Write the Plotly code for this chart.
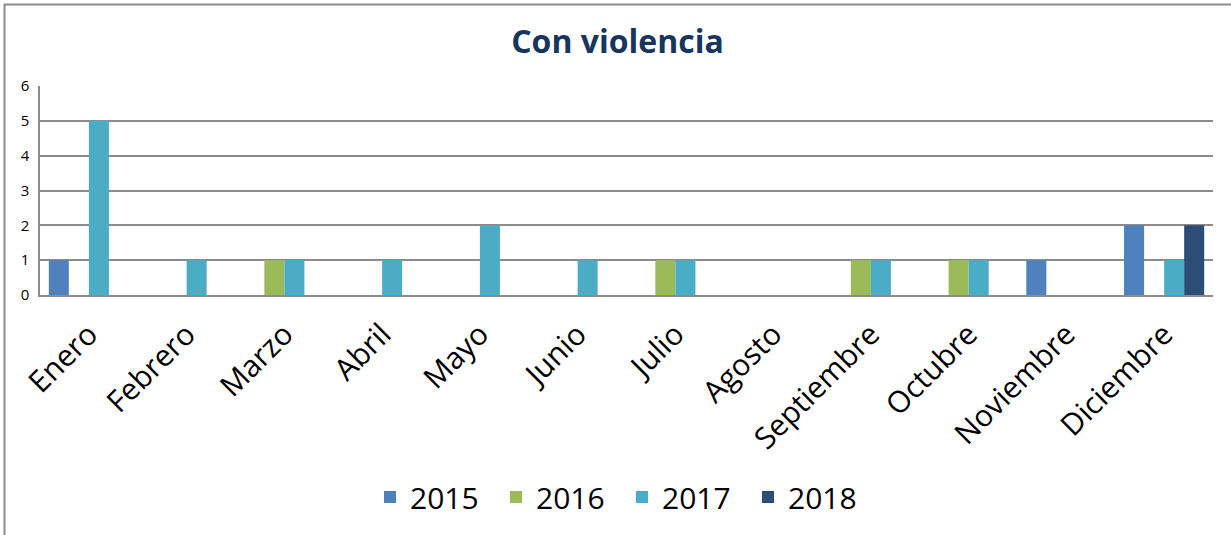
import plotly.graph_objects as go

months = ["Enero", "Febrero", "Marzo", "Abril", "Mayo", "Junio", "Julio",
          "Agosto", "Septiembre", "Octubre", "Noviembre", "Diciembre"]

y2015 = [1, 0, 0, 0, 0, 0, 0, 0, 0, 0, 1, 2]
y2016 = [0, 0, 1, 0, 0, 0, 1, 0, 1, 1, 0, 0]
y2017 = [5, 1, 1, 1, 2, 1, 1, 0, 1, 1, 0, 1]
y2018 = [0, 0, 0, 0, 0, 0, 0, 0, 0, 0, 0, 2]

series = [
    ("2015", y2015, "#4F81BD"),
    ("2016", y2016, "#9BBB59"),
    ("2017", y2017, "#4BACC6"),
    ("2018", y2018, "#2C4D75"),
]

fig = go.Figure()
for name, vals, color in series:
    fig.add_trace(go.Bar(x=months, y=vals, name=name,
                         marker=dict(color=color, line=dict(width=0))))

W, H = 1231, 535
L, R, T, B = 40, 18, 86, 240
pw, ph = W - L - R, H - T - B

def px(x):
    return (x - L) / pw

def py(y):
    return (H - B - y) / ph

fig.update_layout(
    width=W, height=H,
    margin=dict(l=L, r=R, t=T, b=B),
    paper_bgcolor="white", plot_bgcolor="white",
    barmode="group", bargap=0.18, bargroupgap=0,
    title=dict(text="<b>Con violencia</b>", x=617.5 / W, xanchor="center",
               xref="container", y=1 - 42 / H, yanchor="middle",
               font=dict(family="Open Sans", size=32, color="#17365D")),
    font=dict(family="Open Sans", color="black"),
    legend=dict(orientation="h", x=px(622), xanchor="center",
                y=py(497), yanchor="middle",
                font=dict(family="Open Sans", size=30, color="black"),
                itemwidth=30, traceorder="normal",
                entrywidth=81, entrywidthmode="pixels"),
    shapes=[
        dict(type="line", xref="paper", yref="paper",
             x0=px(4), x1=px(1231), y0=py(4.5), y1=py(4.5),
             line=dict(color="#8C8C8C", width=2)),
        dict(type="line", xref="paper", yref="paper",
             x0=px(4.5), x1=px(4.5), y0=py(4), y1=py(535),
             line=dict(color="#8C8C8C", width=2)),
    ],
)

fig.update_xaxes(
    tickangle=-45, tickfont=dict(family="Open Sans", size=30, color="black"),
    showline=True, linecolor="#8C8C8C", linewidth=1.5, ticks="",
    showgrid=False, ticklabelstandoff=8,
)
fig.update_yaxes(
    range=[0, 6], dtick=1, tickfont=dict(family="Open Sans", size=15, color="black"),
    showgrid=True, gridcolor="#8C8C8C", gridwidth=1.5,
    showline=True, linecolor="#8C8C8C", linewidth=1.5, zeroline=False,
    ticks="", ticklabelstandoff=6,
)

fig.write_html("out.html")
